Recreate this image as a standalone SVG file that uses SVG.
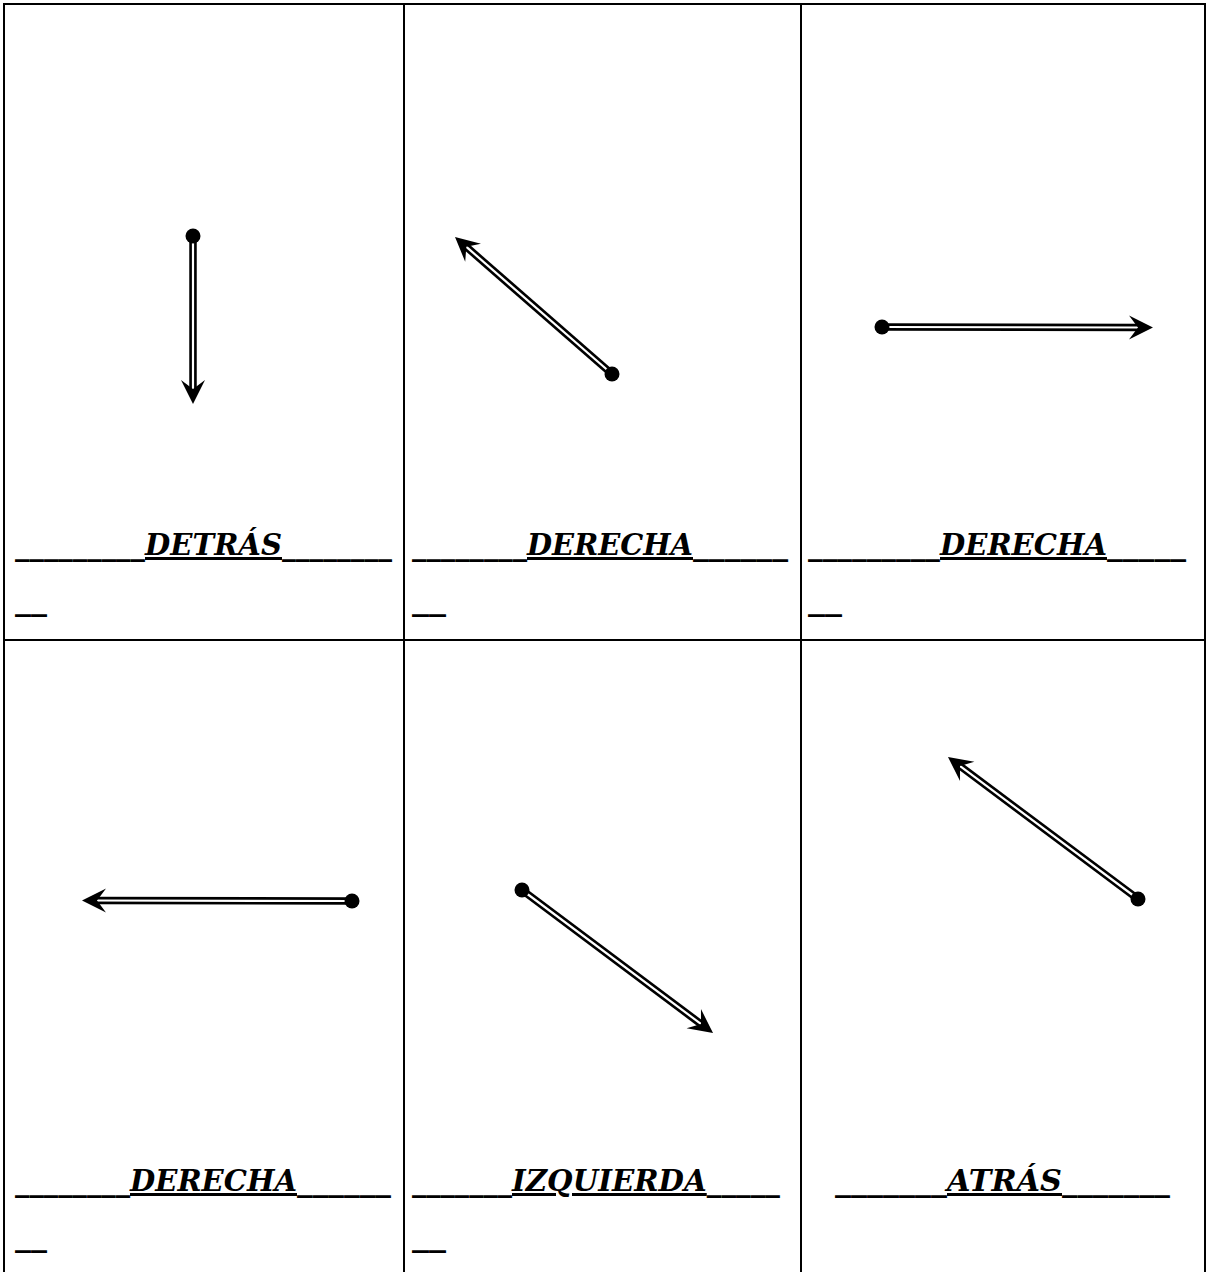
<svg xmlns="http://www.w3.org/2000/svg" width="1209" height="1272" viewBox="0 0 1209 1272">
<style>
.grid{stroke:#000;stroke-width:2;fill:none}
.outer{stroke:#000;stroke-width:7.5;stroke-linecap:butt}
.inner{stroke:#fff;stroke-width:2.2;stroke-linecap:butt}
.dot{fill:#000}
text{font-family:"DejaVu Serif","Liberation Serif",serif;font-weight:bold;font-style:italic;font-size:30px;fill:#000}
.w{text-decoration:underline}
</style>
<defs>
<marker id="head" markerUnits="userSpaceOnUse" orient="auto" refX="0" refY="0" markerWidth="40" markerHeight="40" viewBox="-20 -20 40 40" overflow="visible">
<path d="M11,0 L-13,-12 L-4,0 L-13,12 Z" fill="#000"/>
</marker>
</defs>
<rect width="1209" height="1272" fill="#fff"/>
<g id="grid">
<line class="grid" x1="3" y1="4" x2="1206" y2="4"/>
<line class="grid" x1="4" y1="3" x2="4" y2="1272"/>
<line class="grid" x1="404" y1="3" x2="404" y2="1272"/>
<line class="grid" x1="801" y1="3" x2="801" y2="1272"/>
<line class="grid" x1="1205" y1="3" x2="1205" y2="1272"/>
<line class="grid" x1="3" y1="640" x2="1206" y2="640"/>
</g>
<g id="cell1">
<text y="555"><tspan x="15" textLength="130" lengthAdjust="spacingAndGlyphs">_________</tspan><tspan class="w" x="145" textLength="137" lengthAdjust="spacingAndGlyphs">DETRÁS</tspan><tspan x="282" textLength="110" lengthAdjust="spacingAndGlyphs">________</tspan></text>
<text x="15" y="610" textLength="32" lengthAdjust="spacingAndGlyphs">__</text>
</g>
<g id="cell2">
<text y="555"><tspan x="412" textLength="115" lengthAdjust="spacingAndGlyphs">________</tspan><tspan class="w" x="527" textLength="166" lengthAdjust="spacingAndGlyphs">DERECHA</tspan><tspan x="693" textLength="95" lengthAdjust="spacingAndGlyphs">______</tspan></text>
<text x="412" y="610" textLength="34" lengthAdjust="spacingAndGlyphs">__</text>
</g>
<g id="cell3">
<text y="555"><tspan x="808" textLength="132" lengthAdjust="spacingAndGlyphs">_________</tspan><tspan class="w" x="940" textLength="167" lengthAdjust="spacingAndGlyphs">DERECHA</tspan><tspan x="1107" textLength="79" lengthAdjust="spacingAndGlyphs">_____</tspan></text>
<text x="808" y="610" textLength="34" lengthAdjust="spacingAndGlyphs">__</text>
</g>
<g id="cell4">
<text y="1191"><tspan x="15" textLength="115" lengthAdjust="spacingAndGlyphs">________</tspan><tspan class="w" x="130" textLength="167" lengthAdjust="spacingAndGlyphs">DERECHA</tspan><tspan x="297" textLength="94" lengthAdjust="spacingAndGlyphs">______</tspan></text>
<text x="15" y="1246" textLength="32" lengthAdjust="spacingAndGlyphs">__</text>
</g>
<g id="cell5">
<text y="1191"><tspan x="412" textLength="100" lengthAdjust="spacingAndGlyphs">_______</tspan><tspan x="512" textLength="268" lengthAdjust="spacingAndGlyphs"><tspan class="w">IZQUIERDA</tspan>_____</tspan></text>
<text x="412" y="1246" textLength="34" lengthAdjust="spacingAndGlyphs">__</text>
</g>
<g id="cell6">
<text y="1191"><tspan x="835" textLength="112" lengthAdjust="spacingAndGlyphs">_______</tspan><tspan class="w" x="947" textLength="115" lengthAdjust="spacingAndGlyphs">ATRÁS</tspan><tspan x="1062" textLength="108" lengthAdjust="spacingAndGlyphs">_______</tspan></text>
</g>
<g id="arrows">
<g id="arrow1">
<line class="outer" x1="193" y1="236" x2="193" y2="393"/>
<line class="inner" x1="193" y1="236" x2="193" y2="393" marker-end="url(#head)"/>
<circle class="dot" cx="193" cy="236" r="7.5"/>
</g>
<g id="arrow2">
<line class="outer" x1="612" y1="374" x2="463.3" y2="244.2"/>
<line class="inner" x1="612" y1="374" x2="463.3" y2="244.2" marker-end="url(#head)"/>
<circle class="dot" cx="612" cy="374" r="7.5"/>
</g>
<g id="arrow3">
<line class="outer" x1="882" y1="327" x2="1142" y2="327.5"/>
<line class="inner" x1="882" y1="327" x2="1142" y2="327.5" marker-end="url(#head)"/>
<circle class="dot" cx="882" cy="327" r="7.5"/>
</g>
<g id="arrow4">
<line class="outer" x1="352" y1="901" x2="93" y2="900.5"/>
<line class="inner" x1="352" y1="901" x2="93" y2="900.5" marker-end="url(#head)"/>
<circle class="dot" cx="352" cy="901" r="7.5"/>
</g>
<g id="arrow5">
<line class="outer" x1="522" y1="890" x2="704.2" y2="1026.4"/>
<line class="inner" x1="522" y1="890" x2="704.2" y2="1026.4" marker-end="url(#head)"/>
<circle class="dot" cx="522" cy="890" r="7.5"/>
</g>
<g id="arrow6">
<line class="outer" x1="1138" y1="899" x2="956.8" y2="763.6"/>
<line class="inner" x1="1138" y1="899" x2="956.8" y2="763.6" marker-end="url(#head)"/>
<circle class="dot" cx="1138" cy="899" r="7.5"/>
</g>
</g>
</svg>
